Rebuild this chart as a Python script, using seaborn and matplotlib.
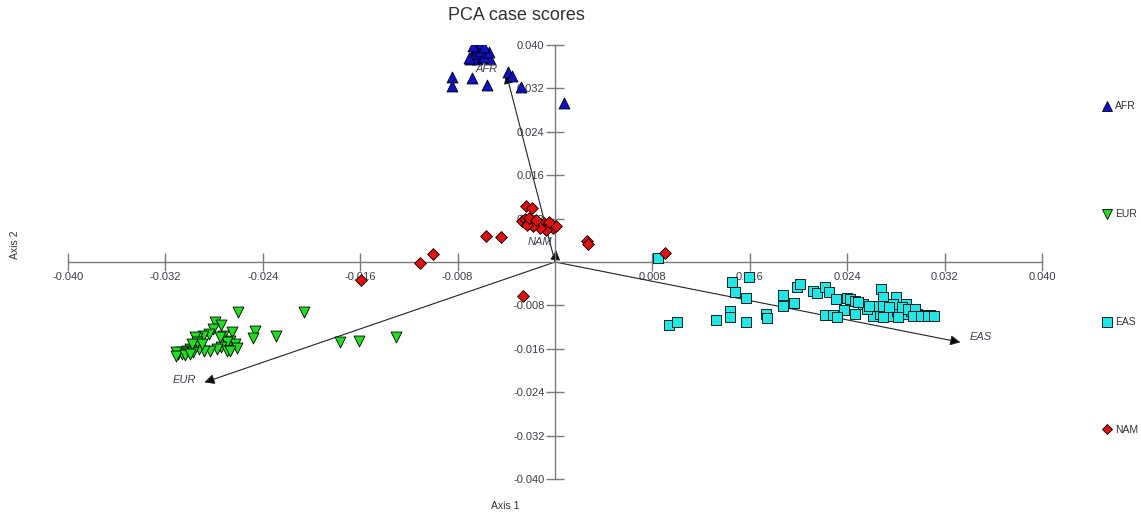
import numpy as np
import pandas as pd
import matplotlib
matplotlib.use("Agg")
import matplotlib.pyplot as plt
from matplotlib.lines import Line2D
import seaborn as sns

sns.set_style("white")
plt.rcParams["font.family"] = ["Liberation Sans", "DejaVu Sans"]

# ---- case scores (Axis 1, Axis 2) per population ----
afr_x = [-0.0070, -0.0066, -0.0063, -0.0062, -0.0059, -0.0056, -0.0053, -0.0067, -0.0064,
         -0.0060, -0.0065, -0.0062, -0.0058, -0.0061, -0.0067, -0.0071, -0.0054, -0.0058,
         -0.0085, -0.0085, -0.0068, -0.0056, -0.0039, -0.0035, -0.0028, 0.0007]
afr_y = [0.0374, 0.0393, 0.0402, 0.0396, 0.0389, 0.0383, 0.0374, 0.0380, 0.0374,
         0.0378, 0.0385, 0.0389, 0.0378, 0.0404, 0.0398, 0.0376, 0.0387, 0.0397,
         0.0341, 0.0324, 0.0339, 0.0326, 0.0350, 0.0343, 0.0323, 0.0293]

eur_x = [-0.0260, -0.0206, -0.0246, -0.0248, -0.0229, -0.0177, -0.0161, -0.0131,
         -0.0279, -0.0274, -0.0281, -0.0284, -0.0289, -0.0294, -0.0296, -0.0273, -0.0265,
         -0.0267, -0.0263, -0.0261, -0.0269, -0.0274, -0.0278, -0.0283, -0.0288, -0.0292,
         -0.0296, -0.0300, -0.0302, -0.0306, -0.0310, -0.0306, -0.0297, -0.0269, -0.0275,
         -0.0294, -0.0298, -0.0290, -0.0267, -0.0311, -0.0311, -0.0304, -0.0300]
eur_y = [-0.0092, -0.0092, -0.0127, -0.0140, -0.0136, -0.0148, -0.0146, -0.0138,
         -0.0111, -0.0116, -0.0124, -0.0133, -0.0136, -0.0140, -0.0138, -0.0136, -0.0129,
         -0.0146, -0.0151, -0.0159, -0.0148, -0.0157, -0.0160, -0.0164, -0.0164, -0.0160,
         -0.0157, -0.0160, -0.0164, -0.0166, -0.0170, -0.0170, -0.0166, -0.0164, -0.0138,
         -0.0148, -0.0151, -0.0151, -0.0164, -0.0166, -0.0173, -0.0171, -0.0170]

eas_x = [0.0085, 0.0145, 0.0148, 0.0157, 0.0159, 0.0144, 0.0144, 0.0132, 0.0157, 0.0173,
         0.0174, 0.0094, 0.0100, 0.0187, 0.0187, 0.0196, 0.0199, 0.0201, 0.0212, 0.0215,
         0.0222, 0.0225, 0.0231, 0.0240, 0.0242, 0.0237, 0.0222, 0.0228, 0.0232, 0.0246,
         0.0268, 0.0269, 0.0280, 0.0288, 0.0253, 0.0259, 0.0261, 0.0267, 0.0273, 0.0275,
         0.0281, 0.0286, 0.0292, 0.0297, 0.0302, 0.0308, 0.0256, 0.0265, 0.0269, 0.0278,
         0.0285, 0.0290, 0.0296, 0.0246, 0.0249, 0.0269, 0.0282, 0.0294, 0.0301, 0.0306,
         0.0311, 0.0274, 0.0258]
eas_y = [0.0007, -0.0037, -0.0055, -0.0066, -0.0028, -0.0090, -0.0101, -0.0107, -0.0111, -0.0096,
         -0.0103, -0.0116, -0.0111, -0.0061, -0.0081, -0.0076, -0.0046, -0.0041, -0.0054, -0.0057,
         -0.0046, -0.0055, -0.0068, -0.0066, -0.0068, -0.0089, -0.0098, -0.0098, -0.0101, -0.0096,
         -0.0050, -0.0065, -0.0065, -0.0077, -0.0077, -0.0087, -0.0100, -0.0096, -0.0090, -0.0100,
         -0.0090, -0.0096, -0.0090, -0.0096, -0.0098, -0.0098, -0.0087, -0.0081, -0.0081, -0.0077,
         -0.0083, -0.0087, -0.0087, -0.0072, -0.0074, -0.0101, -0.0101, -0.0100, -0.0100, -0.0100,
         -0.0100, -0.0083, -0.0081]

nam_x = [-0.0024, -0.0019, -0.0057, -0.0044, -0.0100, -0.0111, 0.0026, 0.0027, -0.0026,
         0.0090, -0.0159, -0.0027, -0.0025, -0.0022, -0.0020, -0.0016, -0.0014, -0.0012,
         -0.0009, -0.0007, -0.0004, -0.0002, 0.0001, -0.0007, -0.0012, -0.0018, -0.0023,
         -0.0021, -0.0016, -0.0005]
nam_y = [0.0103, 0.0100, 0.0048, 0.0046, 0.0015, -0.0001, 0.0039, 0.0033, -0.0063,
         0.0017, -0.0033, 0.0076, 0.0079, 0.0072, 0.0076, 0.0070, 0.0074, 0.0068,
         0.0072, 0.0065, 0.0068, 0.0063, 0.0066, 0.0059, 0.0063, 0.0066, 0.0068,
         0.0081, 0.0077, 0.0074]

# ---- variable loadings (biplot vectors) ----
vec_names = ["AFR", "NAM", "EUR", "EAS"]
vec_x = [-0.0040, 0.0001, -0.0288, 0.0333]
vec_y = [0.0347, 0.0022, -0.0222, -0.0148]

groups = ["AFR", "EUR", "EAS", "NAM"]
colors = {"AFR": "#1010c8", "EUR": "#22dd22", "EAS": "#22e5e5", "NAM": "#e01010"}
markers = {"AFR": "^", "EUR": "v", "EAS": "s", "NAM": "D"}
marker_sizes = {"AFR": 62, "EUR": 62, "EAS": 58, "NAM": 36}

frames = []
for g, xs, ys in [("AFR", afr_x, afr_y), ("EUR", eur_x, eur_y),
                  ("EAS", eas_x, eas_y), ("NAM", nam_x, nam_y)]:
    frames.append(pd.DataFrame({"Axis 1": xs, "Axis 2": ys, "group": g}))
df = pd.concat(frames, ignore_index=True)

fig = plt.figure(figsize=(11.41, 5.14), dpi=100)
ax = fig.add_axes([68 / 1141, 35 / 514, 974 / 1141, 434 / 514])

for g in groups:
    sns.scatterplot(data=df[df["group"] == g], x="Axis 1", y="Axis 2",
                    marker=markers[g], color=colors[g], s=marker_sizes[g],
                    edgecolor="black", linewidth=0.6, ax=ax, legend=False, zorder=3)

ax.set_xlim(-0.040, 0.040)
ax.set_ylim(-0.040, 0.040)

# axes crossing at the origin
for side in ["top", "right"]:
    ax.spines[side].set_visible(False)
for side in ["left", "bottom"]:
    ax.spines[side].set_position(("data", 0))
    ax.spines[side].set_color("#7a7a7a")
    ax.spines[side].set_linewidth(1.0)

ticks = [t for t in np.round(np.arange(-0.040, 0.0401, 0.008), 3) if abs(t) > 1e-9]
ax.set_xticks(ticks)
ax.set_yticks(ticks)
ax.set_xticklabels([f"{t:.3f}" for t in ticks])
ax.set_yticklabels([f"{t:.3f}" for t in ticks])
ax.tick_params(axis="both", direction="inout", length=13, width=1.0, color="#7a7a7a",
               labelsize=8, labelcolor="#3c3c48", pad=1, bottom=True, left=True)
ax.set_xlabel("")
ax.set_ylabel("")

# biplot vectors
label_offsets = {"AFR": (-20, 5), "NAM": (-16, 8), "EUR": (-20, 2), "EAS": (20, 5)}
for name, vx, vy in zip(vec_names, vec_x, vec_y):
    ax.annotate("", xy=(vx, vy), xytext=(0, 0),
                arrowprops=dict(arrowstyle="-|>", color="#222222", lw=0.8,
                                mutation_scale=15, shrinkA=0, shrinkB=0,
                                fc="black"), zorder=2)
    dx, dy = label_offsets[name]
    ax.annotate(name, xy=(vx, vy), xytext=(dx, dy), textcoords="offset pixels",
                ha="center", va="center", fontsize=8, style="italic",
                color="#404050", zorder=4)

fig.text(516 / 1141, 1 - 16 / 514, "PCA case scores", ha="center", va="center",
         fontsize=13, color="#303030")
fig.text(505 / 1141, 1 - 506 / 514, "Axis 1", ha="center", va="center",
         fontsize=7.5, color="#303030")
fig.text(15 / 1141, 1 - 245 / 514, "Axis 2", ha="center", va="center",
         fontsize=7.5, color="#303030", rotation=90)

handles = [Line2D([], [], linestyle="none", marker=markers[g], markerfacecolor=colors[g],
                  markeredgecolor="black", markeredgewidth=0.6,
                  markersize=6.5 if g != "NAM" else 5, label=g) for g in groups]
fig.legend(handles=handles, loc="upper left", bbox_to_anchor=(1093 / 1141, 1 - 92 / 514),
           frameon=False, fontsize=7.5, labelspacing=9.4, handlelength=0.8,
           handletextpad=0.4, labelcolor="#303030")

fig.savefig("out.png", dpi=100)
